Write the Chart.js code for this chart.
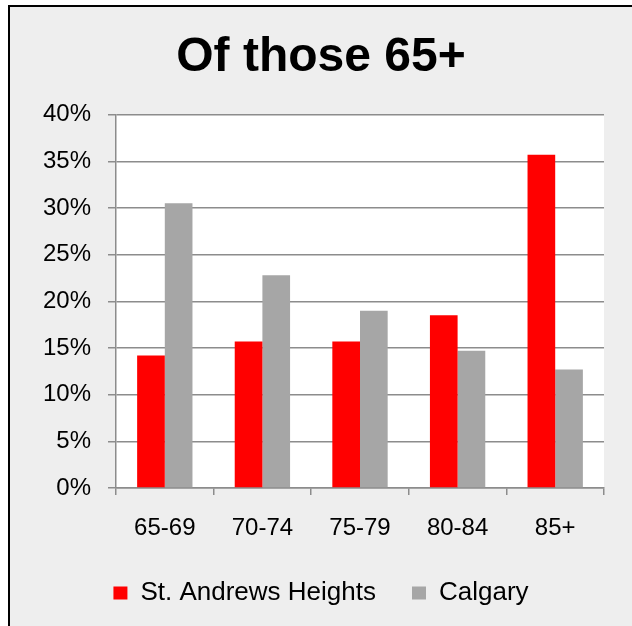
<!DOCTYPE html>
<html>
<head>
<meta charset="utf-8">
<script src="https://cdn.jsdelivr.net/npm/chart.js@4/dist/chart.umd.min.js"></script>
<style>
  html, body { margin: 0; padding: 0; background: #fff; }
  body { width: 632px; height: 626px; position: relative; overflow: hidden; }
  #frame {
    position: absolute; left: 8px; top: 5px; width: 622px; height: 619px;
    border-left: 2px solid #000; border-top: 2px solid #000;
    background: #eeeeee;
  }
</style>
</head>
<body>
<div id="frame"><canvas id="ageChart" width="622" height="619"></canvas></div>
<script>
// 연령 구간
const ageGroups = ['65-69', '70-74', '75-79', '80-84', '85+'];
// 시리즈 값 (%)
const stAndrews = [14.2, 15.7, 15.7, 18.5, 35.7];
const calgary = [30.5, 22.8, 19.0, 14.7, 12.7];
// y축 눈금
const yMin = 0;
const yMax = 40;
const yStep = 5;

const gridColor = '#8c8c8c';

// 플롯 영역 흰 배경
const plotBg = {
  id: 'plotBg',
  beforeDraw(chart) {
    const a = chart.chartArea;
    const c = chart.ctx;
    c.save();
    c.fillStyle = '#ffffff';
    c.fillRect(a.left, a.top, a.right - a.left, a.bottom - a.top);
    c.restore();
  }
};

Chart.defaults.font.family = "'Liberation Sans', Arial, sans-serif";
Chart.defaults.color = '#000';

const ctx = document.getElementById('ageChart').getContext('2d');
const ageChart = new Chart(ctx, {
  type: 'bar',
  data: {
    labels: ageGroups,
    datasets: [{
      label: 'St. Andrews Heights',
      data: stAndrews,
      backgroundColor: '#ff0000',
      borderWidth: 0
    }, {
      label: 'Calgary',
      data: calgary,
      backgroundColor: '#a6a6a6',
      borderWidth: 0
    }]
  },
  options: {
    responsive: false,
    animation: false,
    categoryPercentage: 0.567,
    barPercentage: 1.0,
    layout: { padding: { left: 0, right: 0, top: 0, bottom: 10 } },
    plugins: {
      title: {
        display: true,
        text: 'Of those 65+',
        font: { size: 48, weight: 'bold' },
        color: '#000',
        padding: { top: 22, bottom: 28 }
      },
      legend: {
        position: 'bottom',
        labels: {
          font: { size: 26 },
          boxWidth: 14,
          boxHeight: 13,
          padding: 36,
          color: '#000'
        }
      },
      tooltip: { enabled: false }
    },
    scales: {
      x: {
        grid: {
          display: true,
          drawOnChartArea: false,
          drawTicks: true,
          tickLength: 7,
          color: gridColor,
          lineWidth: 1.5
        },
        border: { color: gridColor, width: 1.5 },
        ticks: { font: { size: 24 }, padding: 19 },
        afterFit(scale) { scale.height = 56; }
      },
      y: {
        min: yMin,
        max: yMax,
        ticks: {
          stepSize: yStep,
          font: { size: 24 },
          padding: 17,
          callback: v => v + '%'
        },
        grid: { color: gridColor, lineWidth: 1.5, tickLength: 8 },
        border: { color: gridColor, width: 1.5 },
        afterFit(scale) { scale.width = 106; }
      },
      // 오른쪽 여백용 빈 축
      yPad: {
        position: 'right',
        min: yMin,
        max: yMax,
        ticks: { display: false },
        grid: { display: false, drawOnChartArea: false },
        border: { display: false },
        afterFit(scale) { scale.width = 28; }
      }
    }
  },
  plugins: [plotBg]
});
</script>
</body>
</html>
